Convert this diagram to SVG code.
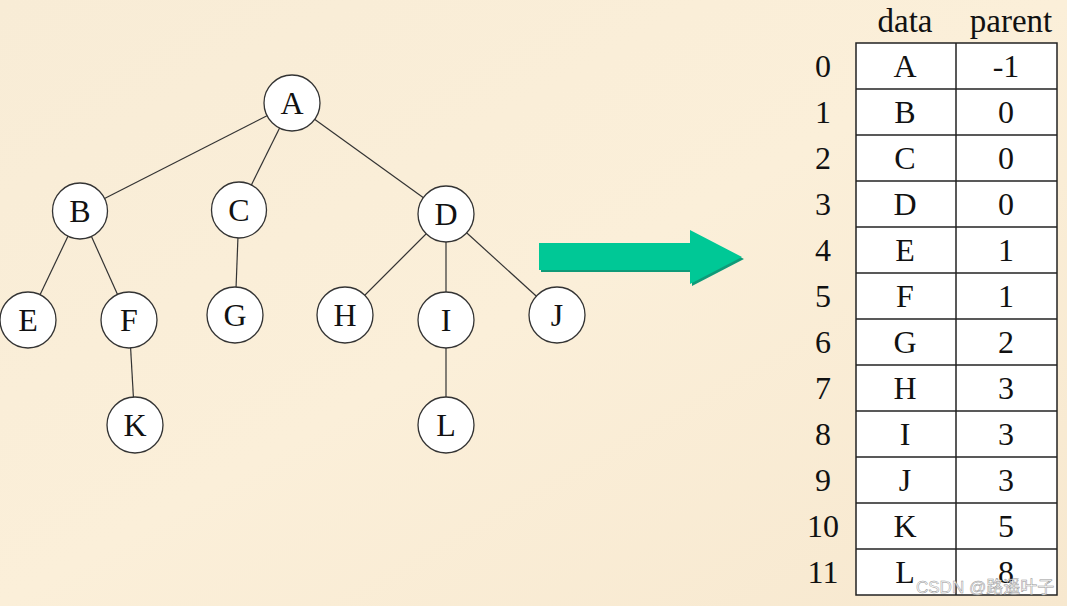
<svg xmlns="http://www.w3.org/2000/svg" width="1067" height="606" viewBox="0 0 1067 606">
<defs>
<linearGradient id="bg" x1="0" y1="0" x2="1" y2="1">
<stop offset="0" stop-color="#F8ECD6"/>
<stop offset="0.5" stop-color="#FBEFD9"/>
<stop offset="1" stop-color="#F7E8CF"/>
</linearGradient>
<style>
.n ellipse{fill:#fff;stroke:#333;stroke-width:1.3}
.t{font-family:"Liberation Serif","Times New Roman",serif;font-size:32px;fill:#111;text-anchor:middle}
.h{font-size:33px}
.e line{stroke:#333;stroke-width:1.2}
.cell{fill:#fff;stroke:#222;stroke-width:1.5}
.grid line{stroke:#222;stroke-width:1.5}
</style>
</defs>
<rect width="1067" height="606" fill="url(#bg)"/>
<g id="connectors" class="e">
<line x1="292" y1="103" x2="80" y2="211"/>
<line x1="292" y1="103" x2="239" y2="210"/>
<line x1="292" y1="103" x2="446" y2="214"/>
<line x1="80" y1="211" x2="28" y2="320"/>
<line x1="80" y1="211" x2="129" y2="320"/>
<line x1="239" y1="210" x2="235" y2="315"/>
<line x1="446" y1="214" x2="345" y2="315"/>
<line x1="446" y1="214" x2="446" y2="320"/>
<line x1="446" y1="214" x2="557" y2="315"/>
<line x1="129" y1="320" x2="135" y2="425"/>
<line x1="446" y1="320" x2="446" y2="425"/>
</g>
<g id="node-A" class="n"><ellipse cx="292" cy="103" rx="28" ry="28"/><text class="t" x="292" y="114">A</text></g>
<g id="node-B" class="n"><ellipse cx="80" cy="211" rx="27.5" ry="28"/><text class="t" x="80" y="222">B</text></g>
<g id="node-C" class="n"><ellipse cx="239" cy="210" rx="27.5" ry="28"/><text class="t" x="239" y="221">C</text></g>
<g id="node-D" class="n"><ellipse cx="446" cy="214" rx="28" ry="28"/><text class="t" x="446" y="225">D</text></g>
<g id="node-E" class="n"><ellipse cx="28" cy="320" rx="28" ry="28"/><text class="t" x="28" y="331">E</text></g>
<g id="node-F" class="n"><ellipse cx="129" cy="320" rx="28" ry="28"/><text class="t" x="129" y="331">F</text></g>
<g id="node-G" class="n"><ellipse cx="235" cy="315" rx="28" ry="28"/><text class="t" x="235" y="326">G</text></g>
<g id="node-H" class="n"><ellipse cx="345" cy="315" rx="28" ry="28"/><text class="t" x="345" y="326">H</text></g>
<g id="node-I" class="n"><ellipse cx="446" cy="320" rx="28" ry="28"/><text class="t" x="446" y="331">I</text></g>
<g id="node-J" class="n"><ellipse cx="557" cy="315" rx="28" ry="28"/><text class="t" x="557" y="326">J</text></g>
<g id="node-K" class="n"><ellipse cx="135" cy="425" rx="28" ry="28"/><text class="t" x="135" y="436">K</text></g>
<g id="node-L" class="n"><ellipse cx="446" cy="425" rx="28" ry="28"/><text class="t" x="446" y="436">L</text></g>
<g id="arrow">
<polygon points="541,245 692,245 692,232 744,259 692,286 692,272 541,272" fill="#0F9A78"/>
<polygon points="539,243 690,243 690,230 742,257 690,284 690,270 539,270" fill="#00C896"/>
</g>
<g id="table">
<rect class="cell" x="856" y="43" width="201" height="552"/>
<g class="grid">
<line x1="956" y1="43" x2="956" y2="595"/>
<line x1="856" y1="89" x2="1057" y2="89"/>
<line x1="856" y1="135" x2="1057" y2="135"/>
<line x1="856" y1="181" x2="1057" y2="181"/>
<line x1="856" y1="227" x2="1057" y2="227"/>
<line x1="856" y1="273" x2="1057" y2="273"/>
<line x1="856" y1="319" x2="1057" y2="319"/>
<line x1="856" y1="365" x2="1057" y2="365"/>
<line x1="856" y1="411" x2="1057" y2="411"/>
<line x1="856" y1="457" x2="1057" y2="457"/>
<line x1="856" y1="503" x2="1057" y2="503"/>
<line x1="856" y1="549" x2="1057" y2="549"/>
</g>
<text class="t h" x="905" y="32">data</text>
<text class="t h" x="1011" y="32">parent</text>
<g>
<text class="t" x="823" y="77">0</text><text class="t" x="905" y="77">A</text><text class="t" x="1006" y="77">-1</text>
<text class="t" x="823" y="123">1</text><text class="t" x="905" y="123">B</text><text class="t" x="1006" y="123">0</text>
<text class="t" x="823" y="169">2</text><text class="t" x="905" y="169">C</text><text class="t" x="1006" y="169">0</text>
<text class="t" x="823" y="215">3</text><text class="t" x="905" y="215">D</text><text class="t" x="1006" y="215">0</text>
<text class="t" x="823" y="261">4</text><text class="t" x="905" y="261">E</text><text class="t" x="1006" y="261">1</text>
<text class="t" x="823" y="307">5</text><text class="t" x="905" y="307">F</text><text class="t" x="1006" y="307">1</text>
<text class="t" x="823" y="353">6</text><text class="t" x="905" y="353">G</text><text class="t" x="1006" y="353">2</text>
<text class="t" x="823" y="399">7</text><text class="t" x="905" y="399">H</text><text class="t" x="1006" y="399">3</text>
<text class="t" x="823" y="445">8</text><text class="t" x="905" y="445">I</text><text class="t" x="1006" y="445">3</text>
<text class="t" x="823" y="491">9</text><text class="t" x="905" y="491">J</text><text class="t" x="1006" y="491">3</text>
<text class="t" x="823" y="537">10</text><text class="t" x="905" y="537">K</text><text class="t" x="1006" y="537">5</text>
<text class="t" x="823" y="583">11</text><text class="t" x="905" y="583">L</text><text class="t" x="1006" y="583">8</text>
</g>
</g>
<text x="916" y="593" font-family="'Liberation Sans','Noto Sans CJK SC',sans-serif" font-size="17" fill="#FFFFFF" stroke="#8a8a8a" stroke-width="0.5" opacity="0.9">CSDN @路遥叶子</text>
</svg>
